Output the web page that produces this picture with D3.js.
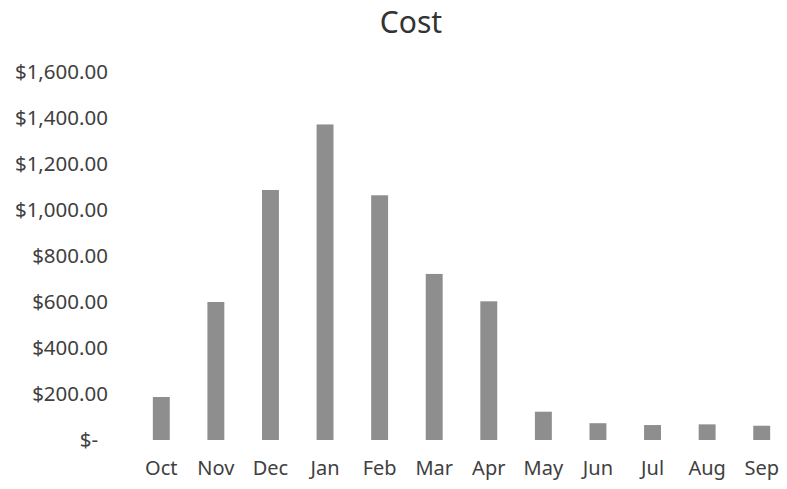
<!DOCTYPE html>
<html>
<head>
<meta charset="utf-8">
<script src="https://cdn.jsdelivr.net/npm/d3@7"></script>
<style>
  html, body { margin: 0; padding: 0; background: #ffffff; }
  svg { display: block; }
  text { font-family: "Noto Sans", "Open Sans", sans-serif; }
</style>
</head>
<body>
<svg id="chart" width="787" height="489"></svg>
<script>
// Monthly cost, October through September
const months = ["Oct", "Nov", "Dec", "Jan", "Feb", "Mar", "Apr", "May", "Jun", "Jul", "Aug", "Sep"];
const cost = [187, 600, 1087, 1372, 1064, 722, 603, 123, 73, 65, 68, 62];
const yTicks = [0, 200, 400, 600, 800, 1000, 1200, 1400, 1600];

const svg = d3.select("#chart");

const x = d3.scaleBand()
  .domain(months)
  .range([134, 789])
  .paddingInner(0.69)
  .paddingOuter(0.345);

const y = d3.scaleLinear()
  .domain([0, 1600])
  .range([440, 72]);

const money = d3.format("$,.2f");

// Title
svg.append("text")
  .attr("x", 411)
  .attr("y", 33)
  .attr("text-anchor", "middle")
  .attr("font-size", 30)
  .attr("fill", "#333333")
  .text("Cost");

// Bars
svg.append("g")
  .selectAll("rect")
  .data(months.map((m, i) => ({ m, v: cost[i] })))
  .join("rect")
  .attr("x", d => x(d.m))
  .attr("y", d => y(d.v))
  .attr("width", x.bandwidth())
  .attr("height", d => y(0) - y(d.v))
  .attr("fill", "#8e8e8e");

// Value axis (labels only)
const yAxis = svg.append("g")
  .attr("transform", "translate(108,0)")
  .call(d3.axisLeft(y)
    .tickValues(yTicks)
    .tickSize(0)
    .tickPadding(0)
    .tickFormat(d => d === 0 ? "$-" : money(d)));
yAxis.select(".domain").remove();
yAxis.selectAll("text")
  .attr("font-size", 20.5)
  .attr("fill", "#404040")
  .attr("font-family", "Noto Sans, sans-serif")
  .attr("dx", d => d === 0 ? -10 : 0);

// Category axis (labels only)
const xAxis = svg.append("g")
  .attr("transform", "translate(0,461)")
  .call(d3.axisBottom(x).tickSize(0).tickPadding(0));
xAxis.select(".domain").remove();
xAxis.selectAll("text")
  .attr("font-size", 20)
  .attr("fill", "#404040")
  .attr("font-family", "Noto Sans, sans-serif");
</script>
</body>
</html>
